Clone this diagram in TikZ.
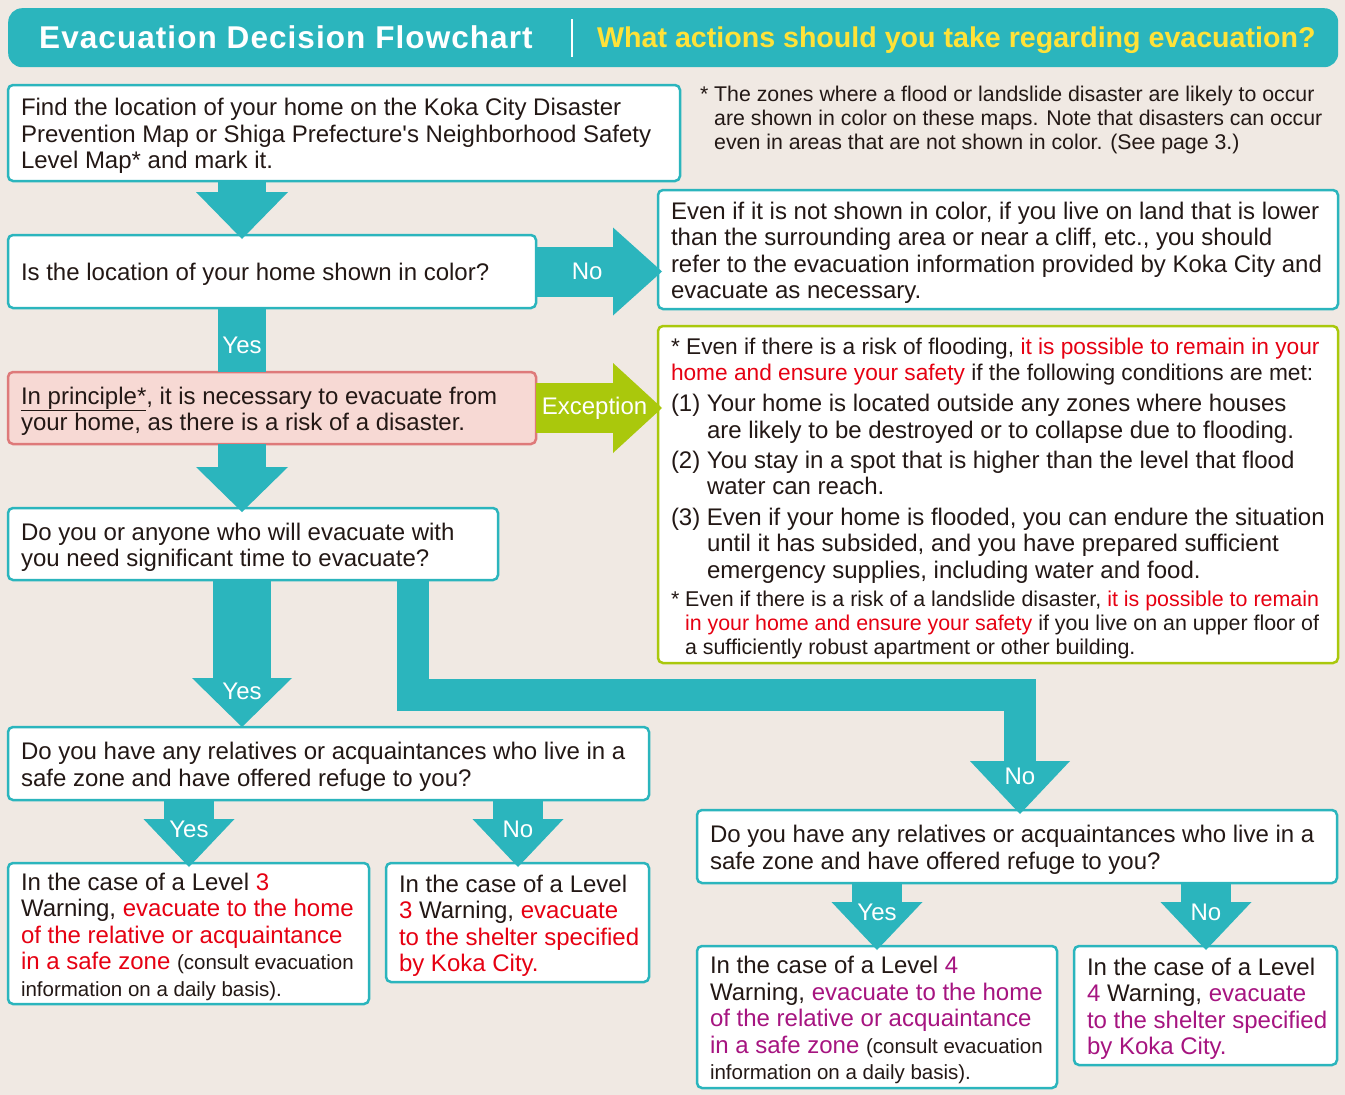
\documentclass[tikz,border=0pt]{standalone}
\usepackage{fontspec}
\setmainfont{Liberation Sans}
\usepackage{tikz}
\usetikzlibrary{arrows.meta,positioning,calc}

\definecolor{kbg}{RGB}{240,233,227}
\definecolor{kteal}{RGB}{43,181,189}
\definecolor{kgreen}{RGB}{170,200,12}
\definecolor{kpink}{RGB}{247,217,212}
\definecolor{kpinkline}{RGB}{222,122,122}
\definecolor{kyellow}{RGB}{255,226,56}
\definecolor{ktext}{RGB}{35,24,21}
\definecolor{kred}{RGB}{230,0,18}
\definecolor{kmag}{RGB}{166,20,128}

\newcommand{\redtxt}[1]{\textcolor{kred}{#1}}
\newcommand{\magtxt}[1]{\textcolor{kmag}{#1}}
\newcommand{\notefont}{\fontsize{20.5}{26.5}\selectfont}

\begin{document}
\begin{tikzpicture}
        [x = 1pt, y = -1pt, line join = miter,
        box/.style = {rectangle, draw=kteal, line width=2.5pt, fill=white, rounded corners=5pt,
                      anchor=north west, outer sep=0pt, inner xsep=13pt, inner ysep=2pt, align=flush left,
                      text=ktext, font=\fontsize{24}{26.5}\selectfont,
                      execute at begin node={\rule{0pt}{23.5pt}}},
        alert/.style = {box, draw=kpinkline, fill=kpink},
        cond/.style = {box, draw=kgreen},
        note/.style = {anchor=north west, inner sep=0pt, align=left, text=ktext, font=\fontsize{21.3}{24}\selectfont},
        lbl/.style = {text=white, inner sep=0pt, font=\fontsize{24}{26}\selectfont},
        blk/.style = {draw=kteal, line width=50pt, shorten >= -4pt,
                      -{Triangle[width=91pt, length=48pt, line width=0pt]}},
        bar/.style = {draw=kteal, line width=48pt}]

        %% page and header
        \fill[kbg] (0,0) rectangle (1345,1095);
        \useasboundingbox (0,0) rectangle (1345,1095);
        \node[fill=kteal, rounded corners=14pt, anchor=north west, inner sep=0pt,
              minimum width=1330pt, minimum height=59pt] (head) at (8,8) {};
        \node[anchor=base west, inner sep=0pt, text=white,
              font=\fontsize{31.5}{34}\selectfont\bfseries\addfontfeatures{LetterSpace=3.4}] (title) at (39,48)
              {Evacuation Decision Flowchart};
        \node[anchor=base west, inner sep=0pt, text=kyellow,
              font=\fontsize{28.6}{32}\selectfont\bfseries] (subtitle) at (597,47)
              {What actions should you take regarding evacuation?};
        \draw[white, line width=1.2pt] (572,19) -- (572,57);

        %% place elements on canvas
        \node[box, minimum width=672pt, minimum height=96pt, text width=646pt] (findhome) at (8,85)
              {Find the location of your home on the Koka City Disaster\\
               Prevention Map or Shiga Prefecture\textquotesingle s Neighborhood Safety\\
               Level Map* and mark it.};
        \node[note] (mapnote) at (700,86)
              {\makebox[14pt][l]{*}The zones where a flood or landslide disaster are likely to occur\\
               \hspace*{14pt}are shown in color on these maps. Note that disasters can occur\\
               \hspace*{14pt}even in areas that are not shown in color. (See page 3.)};
        \node[box, minimum width=528pt, minimum height=73pt, text width=502pt] (colorq) at (8,235)
              {Is the location of your home shown in color?};
        \node[box, minimum width=680pt, minimum height=119pt, text width=654pt] (lowland) at (658,190)
              {\mbox{Even if it is not shown in color, if you live on land that is lower}\\
               than the surrounding area or near a cliff, etc., you should\\
               \mbox{refer to the evacuation information provided by Koka City and}\\
               evacuate as necessary.};
        \node[alert, minimum width=528pt, minimum height=72pt, text width=502pt] (principle) at (8,372)
              {\underline{In principle*}, it is necessary to evacuate from\\
               your home, as there is a risk of a disaster.};
        \node[cond, minimum width=680pt, minimum height=337pt, text width=654pt] (exception) at (658,326)
              {{\fontsize{22.7}{26.5}\selectfont
               \mbox{* Even if there is a risk of flooding, \redtxt{it is possible to remain in your}}\\
               \mbox{\redtxt{home and ensure your safety} if the following conditions are met:}\\[4.5pt]}
               \makebox[36pt][l]{(1)}Your home is located outside any zones where houses\\
               \hspace*{36pt}are likely to be destroyed or to collapse due to flooding.\\[3.5pt]
               \makebox[36pt][l]{(2)}You stay in a spot that is higher than the level that flood\\
               \hspace*{36pt}water can reach.\\[4pt]
               \makebox[36pt][l]{(3)}\mbox{Even if your home is flooded, you can endure the situation}\\
               \hspace*{36pt}until it has subsided, and you have prepared sufficient\\
               \hspace*{36pt}emergency supplies, including water and food.\par
               \vspace{4pt}
               {\fontsize{21.4}{24}\selectfont
               \makebox[14pt][l]{*}\mbox{Even if there is a risk of a landslide disaster, \redtxt{it is possible to remain}}\\
               \hspace*{14pt}\mbox{\redtxt{in your home and ensure your safety} if you live on an upper floor of}\\
               \hspace*{14pt}a sufficiently robust apartment or other building.\par}};
        \node[box, minimum width=490pt, minimum height=72pt, text width=464pt] (timeq) at (8,508)
              {Do you or anyone who will evacuate with\\
               you need significant time to evacuate?};
        \node[box, minimum width=641pt, minimum height=73pt, text width=615pt] (refugeA) at (8,727)
              {Do you have any relatives or acquaintances who live in a\\
               safe zone and have offered refuge to you?};
        \node[box, minimum width=640pt, minimum height=73pt, text width=614pt] (refugeB) at (697,810)
              {Do you have any relatives or acquaintances who live in a\\
               safe zone and have offered refuge to you?};
        \node[box, minimum width=361pt, minimum height=141pt, text width=335pt] (homeA) at (8,863)
              {In the case of a Level \redtxt{3}\\
               \mbox{Warning, \redtxt{evacuate to the home}}\\
               \mbox{\redtxt{of the relative or acquaintance}}\\
               \mbox{\redtxt{in a safe zone} {\notefont(consult evacuation}}\\
               {\notefont information on a daily basis).}};
        \node[box, minimum width=263pt, minimum height=119pt, text width=237pt] (shelterA) at (386,863)
              {In the case of a Level\\
               \redtxt{3} Warning, \redtxt{evacuate}\\
               \mbox{\redtxt{to the shelter specified}}\\
               \redtxt{by Koka City.}};
        \node[box, minimum width=360pt, minimum height=142pt, text width=334pt] (homeB) at (697,946)
              {In the case of a Level \magtxt{4}\\
               \mbox{Warning, \magtxt{evacuate to the home}}\\
               \mbox{\magtxt{of the relative or acquaintance}}\\
               \mbox{\magtxt{in a safe zone} {\notefont(consult evacuation}}\\
               {\notefont information on a daily basis).}};
        \node[box, minimum width=263pt, minimum height=119pt, text width=237pt] (shelterB) at (1074,946)
              {In the case of a Level\\
               \magtxt{4} Warning, \magtxt{evacuate}\\
               \mbox{\magtxt{to the shelter specified}}\\
               \magtxt{by Koka City.}};

        %% columns of the arrows
        \coordinate (colmain) at (242,0);
        \coordinate (colno)   at (412.5,0);
        \coordinate (turn)    at (1020,694.5);
        \coordinate (colyesA) at (189,0);
        \coordinate (colnoA)  at (518,0);
        \coordinate (colyesB) at (877,0);
        \coordinate (colnoB)  at (1206,0);

        %% connect elements
        \draw[blk, line width=48pt, -{Triangle[width=92pt, length=47pt, line width=0pt]}]
              (findhome.south -| colmain) -- (colorq.north -| colmain);
        \draw[bar] (colorq.south -| colmain) -- node[lbl, pos=0.58] {Yes} (principle.north -| colmain);
        \draw[blk, -{Triangle[width=88pt, length=49pt, line width=0pt]}]
              (colorq.east) -- node[lbl, pos=0.42] {No} (lowland.west |- colorq.east);
        \draw[blk, draw=kgreen, -{Triangle[width=90pt, length=49pt, line width=0pt]}]
              (principle.east) -- node[lbl, pos=0.48] {Exception} (exception.west |- principle.east);
        \draw[blk, line width=48pt, -{Triangle[width=92pt, length=45pt, line width=0pt]}]
              (principle.south -| colmain) -- (timeq.north -| colmain);
        \draw[blk, line width=58pt, shorten >= 0pt, -{Triangle[width=100pt, length=49pt, line width=0pt]}]
              (timeq.south -| colmain) -- node[lbl, pos=0.76] {Yes} (refugeA.north -| colmain);
        \draw[blk, line width=32pt, -{Triangle[width=100pt, length=53pt, line width=0pt]}]
              (timeq.south -| colno) |- (turn) -- node[lbl, pos=0.71] {No} (refugeB.north -| turn);
        \draw[blk] (refugeA.south -| colyesA) -- node[lbl, pos=0.46] {Yes} (homeA.north -| colyesA);
        \draw[blk] (refugeA.south -| colnoA)  -- node[lbl, pos=0.46] {No}  (shelterA.north -| colnoA);
        \draw[blk] (refugeB.south -| colyesB) -- node[lbl, pos=0.46] {Yes} (homeB.north -| colyesB);
        \draw[blk] (refugeB.south -| colnoB)  -- node[lbl, pos=0.46] {No}  (shelterB.north -| colnoB);
\end{tikzpicture}
\end{document}
